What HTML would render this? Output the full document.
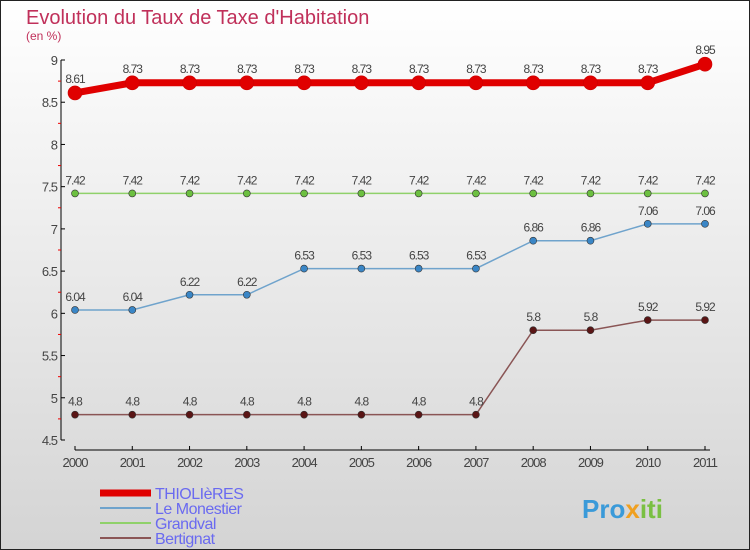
<!DOCTYPE html>
<html><head><meta charset="utf-8">
<style>
body{margin:0;width:750px;height:550px;overflow:hidden;font-family:"Liberation Sans",sans-serif}
svg{display:block}
</style></head><body>
<svg id="c" width="750" height="550" xmlns="http://www.w3.org/2000/svg">
<defs><linearGradient id="bg" x1="0" y1="0" x2="0" y2="1"><stop offset="0" stop-color="#ffffff"/><stop offset="1" stop-color="#d4d4d4"/></linearGradient></defs>
<rect x="0.5" y="0.5" width="749" height="549" fill="url(#bg)" stroke="#222"/>
<text x="26" y="24" font-size="20" fill="#c0305a">Evolution du Taux de Taxe d'Habitation</text>
<text x="26" y="40" font-size="12" fill="#c0305a">(en %)</text>
<g id="axes"></g><g id="series"></g><g id="legend"></g>
<text x="582" y="518" font-size="26" font-weight="bold" fill="#3a9ad9">Pro<tspan fill="#f0a020">x</tspan><tspan fill="#7ac043">iti</tspan></text>
</svg>
<script>
const years=[2000,2001,2002,2003,2004,2005,2006,2007,2008,2009,2010,2011];
const yTicks=[4.5,5,5.5,6,6.5,7,7.5,8,8.5,9];
const thiolieres=[8.61,8.73,8.73,8.73,8.73,8.73,8.73,8.73,8.73,8.73,8.73,8.95];
const monestier=[6.04,6.04,6.22,6.22,6.53,6.53,6.53,6.53,6.86,6.86,7.06,7.06];
const grandval=[7.42,7.42,7.42,7.42,7.42,7.42,7.42,7.42,7.42,7.42,7.42,7.42];
const bertignat=[4.8,4.8,4.8,4.8,4.8,4.8,4.8,4.8,5.8,5.8,5.92,5.92];
const names=["THIOLIèRES","Le Monestier","Grandval","Bertignat"];
const NS="http://www.w3.org/2000/svg";
const xs=i=>75+i*(630/11);
const ys=v=>440-(v-4.5)*(380/4.5);
function mk(t,a,p){const e=document.createElementNS(NS,t);for(const k in a)e.setAttribute(k,a[k]);p.appendChild(e);return e;}
const ax=document.getElementById('axes');
let l=mk('line',{x1:61,y1:60,x2:61,y2:440,stroke:'#000'},ax);

l=mk('line',{x1:75,y1:450,x2:710,y2:450,stroke:'#000'},ax);

yTicks.forEach((v,i)=>{
  mk('line',{x1:61,y1:ys(v),x2:65,y2:ys(v),stroke:'#000'},ax);
  if(i<yTicks.length-1)mk('line',{x1:58,y1:ys(v+0.25),x2:61,y2:ys(v+0.25),stroke:'#e00'},ax);
  const t=mk('text',{x:57,y:ys(v)+5,'font-size':13,fill:'#444','text-anchor':'end','letter-spacing':'-1'},ax);
  t.textContent=String(v);
  
});
years.forEach((y,i)=>{
  mk('line',{x1:xs(i),y1:446,x2:xs(i),y2:450,stroke:'#000'},ax);
  const t=mk('text',{x:xs(i),y:467,'font-size':13,fill:'#444','text-anchor':'middle','letter-spacing':'-1'},ax);
  t.textContent=y;
  
});
const sg=document.getElementById('series');
const defs=[[thiolieres,'#e00000','#e00000',7,7],[monestier,'#6fa3cc','#3a86c6',1.5,3.5],[grandval,'#8fd16a','#6cc040',1.5,3.5],[bertignat,'#8a5555','#5a1515',1.5,3.5]];
defs.forEach((d,si)=>{
  const [arr,lc,pc,w,r]=d;
  const g=mk('g',{},sg);
  
  
  const p=mk('polyline',{points:arr.map((v,i)=>xs(i)+','+ys(v)).join(' '),fill:'none',stroke:lc,'stroke-width':w},g);
  
  arr.forEach((v,i)=>{
    const c=mk('circle',{cx:xs(i),cy:ys(v),r:r,fill:pc,stroke:si==0?'#c00':'#333','stroke-width':0.6},g);
    
    const t=mk('text',{x:xs(i),y:ys(v)-(si==0?10:9),'font-size':12,fill:'#444','text-anchor':'middle','letter-spacing':'-1'},g);
    t.textContent=String(v);
    
  });
});
const lg=document.getElementById('legend');
defs.forEach((d,si)=>{
  const y=493+si*15;
  const g=mk('g',{},lg);
  
  mk('line',{x1:100,y1:y,x2:151,y2:y,stroke:d[1],'stroke-width':si==0?7:2},g);
  const t=mk('text',{x:155,y:y+6,'font-size':16,fill:'#6a6af0','letter-spacing':'-0.5'},g);
  t.textContent=names[si];
});
</script>
</body></html>
